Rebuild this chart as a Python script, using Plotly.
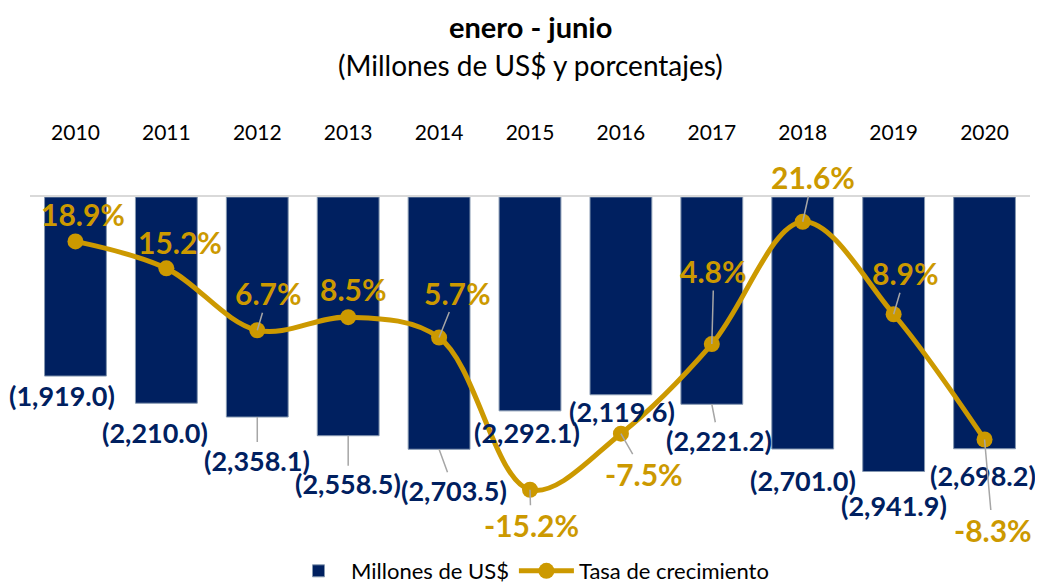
import plotly.graph_objects as go

# Data
years = ['2010', '2011', '2012', '2013', '2014', '2015', '2016', '2017', '2018', '2019', '2020']
millones = [-1919.0, -2210.0, -2358.1, -2558.5, -2703.5, -2292.1, -2119.6, -2221.2, -2701.0, -2941.9, -2698.2]
tasa = [18.9, 15.2, 6.7, 8.5, 5.7, -15.2, -7.5, 4.8, 21.6, 8.9, -8.3]

NAVY = '#002060'
GOLD = '#CC9900'
FONT = 'Lato'

# the page body adds an 8px margin, so the figure is drawn 8px smaller
W, H = 1035, 580
TOP, BOTTOM = 189, 48
PLOT_H = H - TOP - BOTTOM

# label placement: pixel offsets from the point + whether a leader line is drawn
bar_lbl = [(-13, 19, False), (-11, 29, False), (0, 43, True), (0, 48, True), (15, 41, True),
           (-3, 22, False), (1, 17, False), (7, 36, True), (0, 31, False), (0, 34, False), (-2, 27, False)]
pct_lbl = [(8, -27, False), (14, -26, False), (11, -37, True), (5, -28, False), (18, -45, True),
           (1, 35, True), (23, 40, True), (2, -73, True), (10, -45, True), (12, -41, True), (8, 90, True)]

fig = go.Figure()

fig.add_trace(go.Bar(
    x=years, y=millones, name='Millones de US$',
    marker=dict(color=NAVY, line=dict(color='#8497B0', width=1)),
    xaxis='x', yaxis='y',
))

fig.add_trace(go.Scatter(
    x=years, y=tasa, name='Tasa de crecimiento',
    mode='lines+markers',
    line=dict(color=GOLD, width=5, shape='spline', smoothing=1),
    marker=dict(color=GOLD, size=16),
    xaxis='x', yaxis='y2',
))

annotations = []
for i, (v, (dx, dy, lead)) in enumerate(zip(millones, bar_lbl)):
    annotations.append(dict(
        x=i, y=v, xref='x', yref='y',
        text=f'<b>({abs(v):,.1f})</b>',
        showarrow=True, ax=dx, ay=dy, axref='pixel', ayref='pixel',
        arrowhead=0, arrowwidth=1.5,
        arrowcolor='#A6A6A6' if lead else 'rgba(0,0,0,0)',
        font=dict(family=FONT, size=27, color=NAVY),
    ))
for i, (v, (dx, dy, lead)) in enumerate(zip(tasa, pct_lbl)):
    annotations.append(dict(
        x=i, y=v, xref='x', yref='y2',
        text=f'<b>{v:.1f}%</b>',
        showarrow=True, ax=dx, ay=dy, axref='pixel', ayref='pixel',
        arrowhead=0, arrowwidth=1.5,
        arrowcolor='#A6A6A6' if lead else 'rgba(0,0,0,0)',
        font=dict(family=FONT, size=30, color=GOLD),
    ))

# title and subtitle
annotations.append(dict(
    x=0.5, xref='paper', y=1 + TOP / PLOT_H, yref='paper', yanchor='top', borderpad=0,
    text='<b>enero - junio</b>', showarrow=False,
    font=dict(family=FONT, size=29, color='black'),
))
annotations.append(dict(
    x=0.5, xref='paper', y=1 + (TOP - 57) / PLOT_H, yref='paper', yanchor='middle',
    text='(Millones de US$ y porcentajes)', showarrow=False,
    font=dict(family=FONT, size=28, color='black'),
))

fig.update_layout(
    width=W, height=H,
    margin=dict(l=22, r=13, t=TOP, b=BOTTOM, autoexpand=False),
    paper_bgcolor='white', plot_bgcolor='white',
    bargap=0.32,
    showlegend=True,
    legend=dict(orientation='h', x=0.5, xanchor='center', y=-31 / PLOT_H, yanchor='middle',
                itemwidth=55, font=dict(family=FONT, size=22, color='black')),
    xaxis=dict(type='category', categoryorder='array', categoryarray=years,
               range=[-0.5, len(years) - 0.5], automargin=False,
               side='top', showline=True, linecolor='#D9D9D9', linewidth=1.5,
               showgrid=False, ticks='', ticklabelstandoff=47,
               tickfont=dict(family=FONT, size=21, color='black')),
    yaxis=dict(range=[-3676, 0], visible=False),
    yaxis2=dict(range=[-22.1, 25], overlaying='y', visible=False),
    annotations=annotations,
)

fig.write_html('out.html')
